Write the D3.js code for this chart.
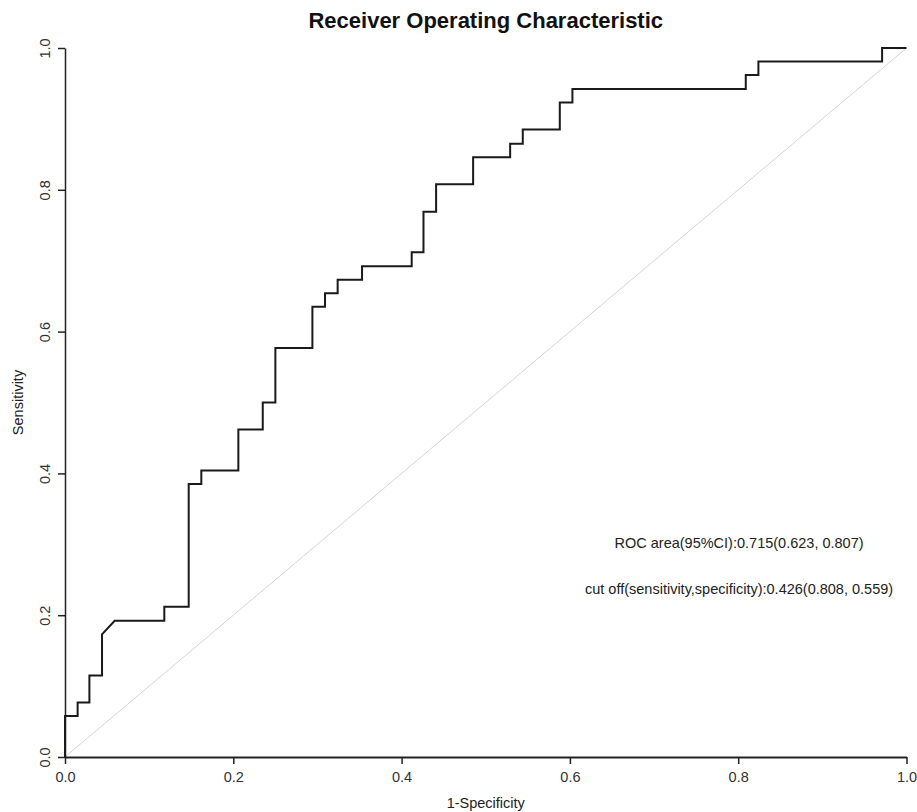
<!DOCTYPE html>
<html>
<head>
<meta charset="utf-8">
<script src="https://cdn.jsdelivr.net/npm/d3@7"></script>
<style>
  body { margin: 0; background: #fff; }
  text { font-family: "Liberation Sans", Arial, sans-serif; }
</style>
</head>
<body>
<script>
// ROC curve vertices (1-specificity, sensitivity)
const fpr = [0, 0, 0.015, 0.015, 0.029, 0.029, 0.044, 0.044, 0.059, 0.118, 0.118,
  0.147, 0.147, 0.162, 0.162, 0.206, 0.206, 0.235, 0.235, 0.25, 0.25, 0.294, 0.294,
  0.309, 0.309, 0.324, 0.324, 0.353, 0.353, 0.412, 0.412, 0.426, 0.426, 0.441, 0.441,
  0.485, 0.485, 0.529, 0.529, 0.544, 0.544, 0.588, 0.588, 0.603, 0.603, 0.809, 0.809,
  0.824, 0.824, 0.971, 0.971, 1];
const tpr = [0, 0.058, 0.058, 0.077, 0.077, 0.115, 0.115, 0.173, 0.192, 0.192, 0.212,
  0.212, 0.385, 0.385, 0.404, 0.404, 0.462, 0.462, 0.5, 0.5, 0.577, 0.577, 0.635,
  0.635, 0.654, 0.654, 0.673, 0.673, 0.692, 0.692, 0.712, 0.712, 0.769, 0.769, 0.808,
  0.808, 0.846, 0.846, 0.865, 0.865, 0.885, 0.885, 0.923, 0.923, 0.942, 0.942, 0.962,
  0.962, 0.981, 0.981, 1, 1];

const ticks = [0, 0.2, 0.4, 0.6, 0.8, 1.0];
const aucCI = [0.715, 0.623, 0.807];
const cutoff = [0.426, 0.808, 0.559];

const width = 917, height = 812;

const svg = d3.select('body').append('svg')
  .attr('width', width)
  .attr('height', height);

const x = d3.scaleLinear().domain([0, 1]).range([65, 906.5]);
const y = d3.scaleLinear().domain([0, 1]).range([757, 48]);

// titel
svg.append('text')
  .attr('x', (x(0) + x(1)) / 2)
  .attr('y', 28)
  .attr('text-anchor', 'middle')
  .attr('font-size', 22)
  .attr('font-weight', 'bold')
  .attr('fill', '#111')
  .text('Receiver Operating Characteristic');

// diagonaal
svg.append('line')
  .attr('x1', x(0)).attr('y1', y(0))
  .attr('x2', x(1)).attr('y2', y(1))
  .attr('stroke', '#d4d4d4')
  .attr('stroke-width', 1);

// x-as
const xAxis = svg.append('g')
  .attr('transform', `translate(0,${y(0)})`)
  .call(d3.axisBottom(x).tickValues(ticks).tickSize(7).tickSizeOuter(0)
    .tickFormat(d3.format('.1f')));
xAxis.select('.domain').attr('stroke', '#222').attr('stroke-width', 1.8);
xAxis.selectAll('.tick line').attr('stroke', '#222').attr('stroke-width', 1.5);
xAxis.selectAll('.tick text')
  .attr('y', 25).attr('dy', 0)
  .attr('font-size', 14.5)
  .attr('font-family', '"Liberation Sans", Arial, sans-serif')
  .attr('fill', '#333');

// y-as
const yAxis = svg.append('g')
  .attr('transform', `translate(${x(0)},0)`)
  .call(d3.axisLeft(y).tickValues(ticks).tickSize(7).tickSizeOuter(0)
    .tickFormat(d3.format('.1f')));
yAxis.select('.domain').attr('stroke', '#222').attr('stroke-width', 1.5);
yAxis.selectAll('.tick line').attr('stroke', '#222').attr('stroke-width', 1.5);
yAxis.selectAll('.tick text')
  .attr('transform', 'rotate(-90)')
  .attr('x', 0).attr('y', -15).attr('dy', 0)
  .attr('text-anchor', 'middle')
  .attr('font-size', 14.5)
  .attr('font-family', '"Liberation Sans", Arial, sans-serif')
  .attr('fill', '#333');

// as-labels
svg.append('text')
  .attr('x', (x(0) + x(1)) / 2)
  .attr('y', 808)
  .attr('text-anchor', 'middle')
  .attr('font-size', 14.5)
  .attr('fill', '#222')
  .text('1-Specificity');

svg.append('text')
  .attr('transform', `translate(23,${(y(0) + y(1)) / 2}) rotate(-90)`)
  .attr('text-anchor', 'middle')
  .attr('font-size', 14.5)
  .attr('fill', '#222')
  .text('Sensitivity');

// ROC curve
const points = fpr.map((d, i) => [d, tpr[i]]);
const line = d3.line()
  .x(d => x(d[0]))
  .y(d => y(d[1]));

svg.append('path')
  .datum(points)
  .attr('d', line)
  .attr('fill', 'none')
  .attr('stroke', '#1a1a1a')
  .attr('stroke-width', 2)
  .attr('stroke-linejoin', 'miter');

// annotaties
const f3 = d3.format('.3f');
svg.append('text')
  .attr('x', x(0.801))
  .attr('y', y(0.295))
  .attr('text-anchor', 'middle')
  .attr('font-size', 14.5)
  .attr('fill', '#222')
  .text(`ROC area(95%CI):${f3(aucCI[0])}(${f3(aucCI[1])}, ${f3(aucCI[2])})`);

svg.append('text')
  .attr('x', x(0.801))
  .attr('y', y(0.23))
  .attr('text-anchor', 'middle')
  .attr('font-size', 14.5)
  .attr('fill', '#222')
  .text(`cut off(sensitivity,specificity):${f3(cutoff[0])}(${f3(cutoff[1])}, ${f3(cutoff[2])})`);
</script>
</body>
</html>
